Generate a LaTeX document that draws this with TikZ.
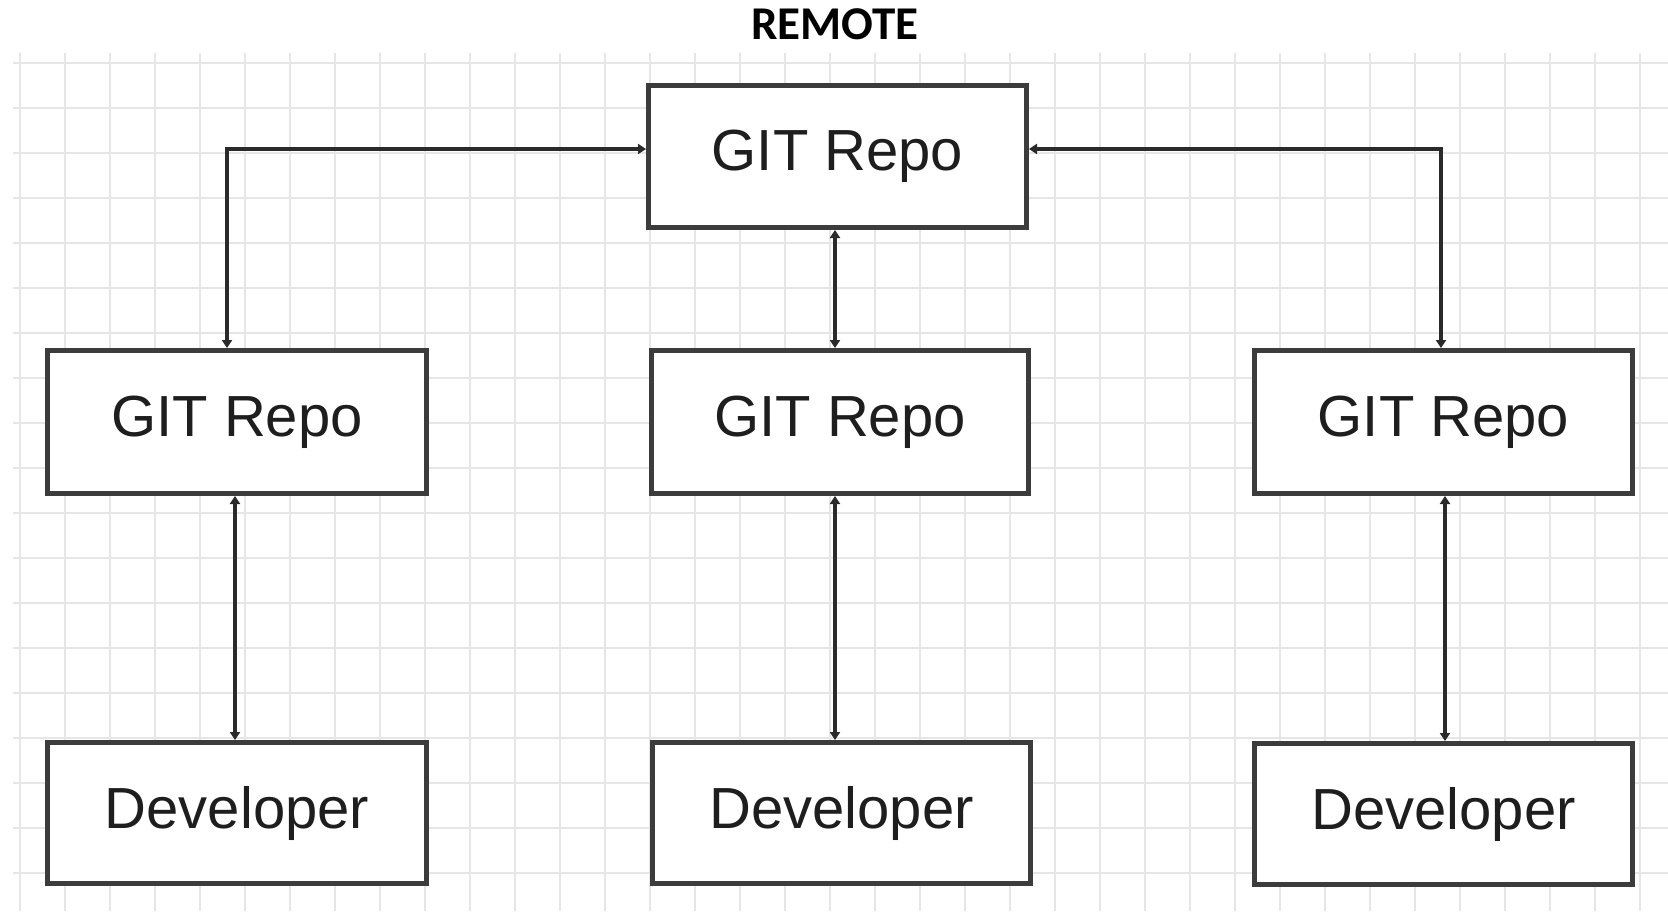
\documentclass[tikz,border=0pt]{standalone}
\usepackage{fontspec}
\setmainfont{Liberation Sans}
\newfontfamily\titlefont{Carlito}
\usetikzlibrary{arrows.meta}
\definecolor{gridc}{HTML}{E6E6E6}
\definecolor{boxc}{HTML}{3C3C3C}
\definecolor{linec}{HTML}{2A2A2A}
\definecolor{txtc}{HTML}{1E1E1E}
\tikzset{
  box/.style={draw=boxc, line width=5pt, fill=white, text=txtc,
    font=\fontsize{58}{66}\selectfont, inner sep=0pt},
  conn/.style={draw=linec, line width=4pt,
    {Triangle[length=8pt,width=10pt]}-{Triangle[length=8pt,width=10pt]}},
  gridline/.style={draw=gridc, line width=2pt}
}
\begin{document}
\begin{tikzpicture}[x=1pt,y=-1pt]
\useasboundingbox (0,0) rectangle (1668,911);
\fill[white] (0,0) rectangle (1668,911);
% grid
\foreach \i in {0,...,36} \draw[gridline] (20+45*\i,53) -- (20+45*\i,911);
\foreach \j in {0,...,18} \draw[gridline] (13,63+45*\j) -- (1668,63+45*\j);
% title
\node[font=\titlefont\bfseries\fontsize{47}{54}\selectfont, text=black] (title) at (835,24) {REMOTE};
% boxes
\node[box, minimum width=378pt, minimum height=142pt] (top) at (837.5,156.5) {\raisebox{6pt}{GIT Repo}};
\node[box, minimum width=379pt, minimum height=143pt] (ml) at (237,422) {\raisebox{6pt}{GIT Repo}};
\node[box, minimum width=377pt, minimum height=143pt] (mc) at (840,422) {\raisebox{6pt}{GIT Repo}};
\node[box, minimum width=378pt, minimum height=143pt] (mr) at (1443.5,422) {\raisebox{6pt}{GIT Repo}};
\node[box, minimum width=379pt, minimum height=141pt] (bl) at (237,813) {\raisebox{4pt}{Developer}};
\node[box, minimum width=378pt, minimum height=141pt] (bc) at (841.5,813) {\raisebox{4pt}{Developer}};
\node[box, minimum width=378pt, minimum height=141pt] (br) at (1443.5,814) {\raisebox{4pt}{Developer}};
% connectors
\draw[conn] ([yshift=7.5pt]top.west) -| ([xshift=-10pt]ml.north);
\draw[conn] ([yshift=7.5pt]top.east) -| ([xshift=-2.5pt]mr.north);
\draw[conn] ([xshift=-2.5pt]top.south) -- ([xshift=-2.5pt]top.south |- mc.north);
\draw[conn] ([xshift=-2pt]ml.south) -- ([xshift=-2pt]ml.south |- bl.north);
\draw[conn] ([xshift=-5pt]mc.south) -- ([xshift=-5pt]mc.south |- bc.north);
\draw[conn] ([xshift=1.5pt]mr.south) -- ([xshift=1.5pt]mr.south |- br.north);
\end{tikzpicture}
\end{document}
